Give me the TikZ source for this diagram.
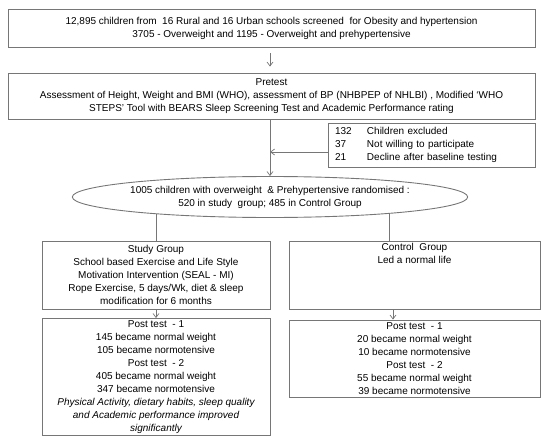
\documentclass[tikz,border=0pt]{standalone}
\usepackage{fontspec}
\setmainfont{Liberation Sans}
\usepackage{xcolor}
\usetikzlibrary{shapes.geometric,arrows.meta,positioning}

\definecolor{linegray}{RGB}{118,118,118}
\tikzset{
  box/.style={draw=linegray, line width=0.9pt, rectangle, inner sep=2pt, align=center,
              font=\fontsize{10}{13}\selectfont},
  oval/.style={draw=linegray, line width=0.9pt, ellipse, inner sep=0pt, align=center,
               font=\fontsize{10}{13}\selectfont},
  arr/.style={-{Straight Barb[length=4pt,width=6pt]}, draw=linegray, line width=0.7pt},
  link/.style={draw=linegray, line width=0.9pt}
}

\begin{document}
\begin{tikzpicture}[x=1pt,y=-1pt]
  \useasboundingbox (0,0) rectangle (550,439);
  % boxes
  \node[box, minimum width=527, minimum height=38] (screen) at (271.5,28)
    {12,895 children from~ 16 Rural and 16 Urban schools screened~ for Obesity and hypertension\\
     3705 - Overweight and 1195 - Overweight and prehypertensive};
  \node[box, minimum width=527, minimum height=46] (pretest) at (271.5,96)
    {Pretest\\
     Assessment of Height, Weight and BMI (WHO), assessment of BP (NHBPEP of NHLBI) , Modified `WHO\\
     STEPS' Tool with BEARS Sleep Screening Test and Academic Performance rating};
  \node[box, inner xsep=7pt, text width=193pt, minimum height=44, align=left] (excl) at (431.5,145)
    {\begin{tabular}{@{}p{32pt}@{}l@{}}
       132 & Children excluded\\
       37  & Not willing to participate\\
       21  & Decline after baseline testing
     \end{tabular}};
  \node[oval, minimum width=355, minimum height=41] (rand) at (270,197)
    {1005 children with overweight~ \& Prehypertensive randomised :\\
     520 in study~ group; 485 in Control Group};
  \node[box, minimum width=228, minimum height=68] (study) at (156,275)
    {Study Group\\
     School based Exercise and Life Style\\
     Motivation Intervention (SEAL - MI)\\
     Rope Exercise, 5 days/Wk, diet \& sleep\\
     modification for 6 months};
  \node[box, minimum width=251, minimum height=68] (control) at (414.5,275)
    {Control~ Group\\
     Led a normal life\\[30pt]\mbox{}};
  \node[box, minimum width=228, minimum height=114] (studypost) at (156,377)
    {Post test~ - 1\\
     145 became normal weight\\
     105 became normotensive\\
     Post test~ - 2\\
     405 became normal weight\\
     347 became normotensive\\
     \itshape Physical Activity, dietary habits, sleep quality\\
     \itshape and Academic performance improved\\
     \itshape significantly};
  \node[box, minimum width=251, minimum height=77] (controlpost) at (414.5,358.5)
    {Post test~ - 1\\
     20 became normal weight\\
     10 became normotensive\\
     Post test~ - 2\\
     55 became normal weight\\
     39 became normotensive};
  % connectors
  \draw[arr, shorten <=6pt, shorten >=6pt] (screen.south -| rand.north) -- (pretest.north -| rand.north);
  \draw[arr] (pretest.south -| rand.north) -- (rand.north);
  \draw[arr] ([yshift=-7pt]excl.west) -- ([yshift=-7pt]excl.west -| rand.north);
  \draw[link] (study.north) -- (study.north |- rand.188);
  \draw[link] (rand.352) -- (rand.352 |- control.north);
  \draw[arr] (study.south) -- (studypost.north);
  \draw[arr] ([xshift=-21.5pt]control.south) -- ([xshift=-21.5pt]controlpost.north);
\end{tikzpicture}
\end{document}
